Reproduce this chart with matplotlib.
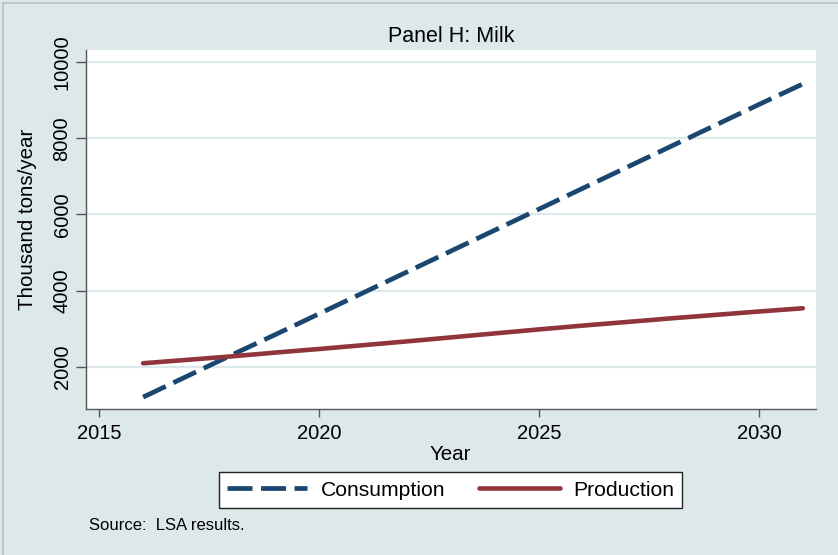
import matplotlib
matplotlib.use("Agg")
import matplotlib.pyplot as plt
from matplotlib.lines import Line2D

years = [2016, 2017, 2018, 2019, 2020, 2021, 2022, 2023, 2024, 2025, 2026, 2027, 2028, 2029, 2030, 2031]
consumption = [1200, 1750, 2300, 2840, 3390, 3940, 4490, 5040, 5590, 6140, 6690, 7240, 7790, 8340, 8890, 9430]
production = [2090, 2180, 2270, 2370, 2465, 2565, 2665, 2770, 2875, 2980, 3080, 3175, 3270, 3360, 3450, 3535]
xticks = [2015, 2020, 2025, 2030]
yticks = [2000, 4000, 6000, 8000, 10000]

plt.rcParams['font.family'] = ['Liberation Sans', 'DejaVu Sans']

W, H = 838, 555
bg = '#dde8eb'
fig = plt.figure(figsize=(W / 100, H / 100), dpi=100, facecolor=bg)

# outer frame lines
fig.add_artist(Line2D([2.5 / W, 2.5 / W], [0, 1 - 2.5 / H], color='#b9c3c5', lw=1.2))
fig.add_artist(Line2D([2.5 / W, 1], [1 - 2.5 / H, 1 - 2.5 / H], color='#b9c3c5', lw=1.2))

L, R, T, B = 85.5, 816, 50, 409
ax = fig.add_axes([L / W, 1 - B / H, (R - L) / W, (B - T) / H])
ax.set_facecolor('white')

ax.plot(years, consumption, color='#1a476f', lw=3.4, dashes=(5.3, 1.8),
        solid_capstyle='butt', dash_capstyle='butt', label='Consumption')
ax.plot(years, production, color='#90353b', lw=3.3, solid_capstyle='round',
        label='Production')

ax.set_xlim(2014.69, 2031.3)
ax.set_ylim(888, 10323)
ax.set_xticks(xticks)
ax.set_yticks(yticks)
ax.set_yticklabels([str(v) for v in yticks], rotation=90, va='center')

ax.grid(axis='y', color='#dce8eb', lw=1.6)
ax.set_axisbelow(True)
for s in ['top', 'right']:
    ax.spines[s].set_visible(False)
for s in ['left', 'bottom']:
    ax.spines[s].set_color('#555555')
    ax.spines[s].set_linewidth(1.0)

ax.tick_params(axis='both', colors='#555555', labelcolor='black', labelsize=14.5, width=1.0)
ax.tick_params(axis='y', length=7, pad=3)
ax.tick_params(axis='x', length=6, pad=5)

ax.set_xlabel('Year', fontsize=14.8, labelpad=1)
ax.set_ylabel('Thousand tons/year', fontsize=14.8, labelpad=10)
ax.yaxis.set_label_coords(-0.066, (B - 219.5) / (B - T))
ax.set_title('Panel H: Milk', fontsize=15.5, pad=6)

leg = fig.legend(loc='center', bbox_to_anchor=(450.7 / W, 1 - 490 / H), ncol=2,
                 fontsize=15.2, frameon=True, fancybox=False, handlelength=3.8,
                 handletextpad=0.65, columnspacing=1.6, borderpad=0.38,
                 edgecolor='#222222', facecolor='white', framealpha=1)
leg.get_frame().set_linewidth(1.0)

fig.text(89 / W, 1 - 526 / H, 'Source:  LSA results.', fontsize=12, va='center', ha='left')

fig.savefig('out.png', dpi=100, facecolor=bg)
